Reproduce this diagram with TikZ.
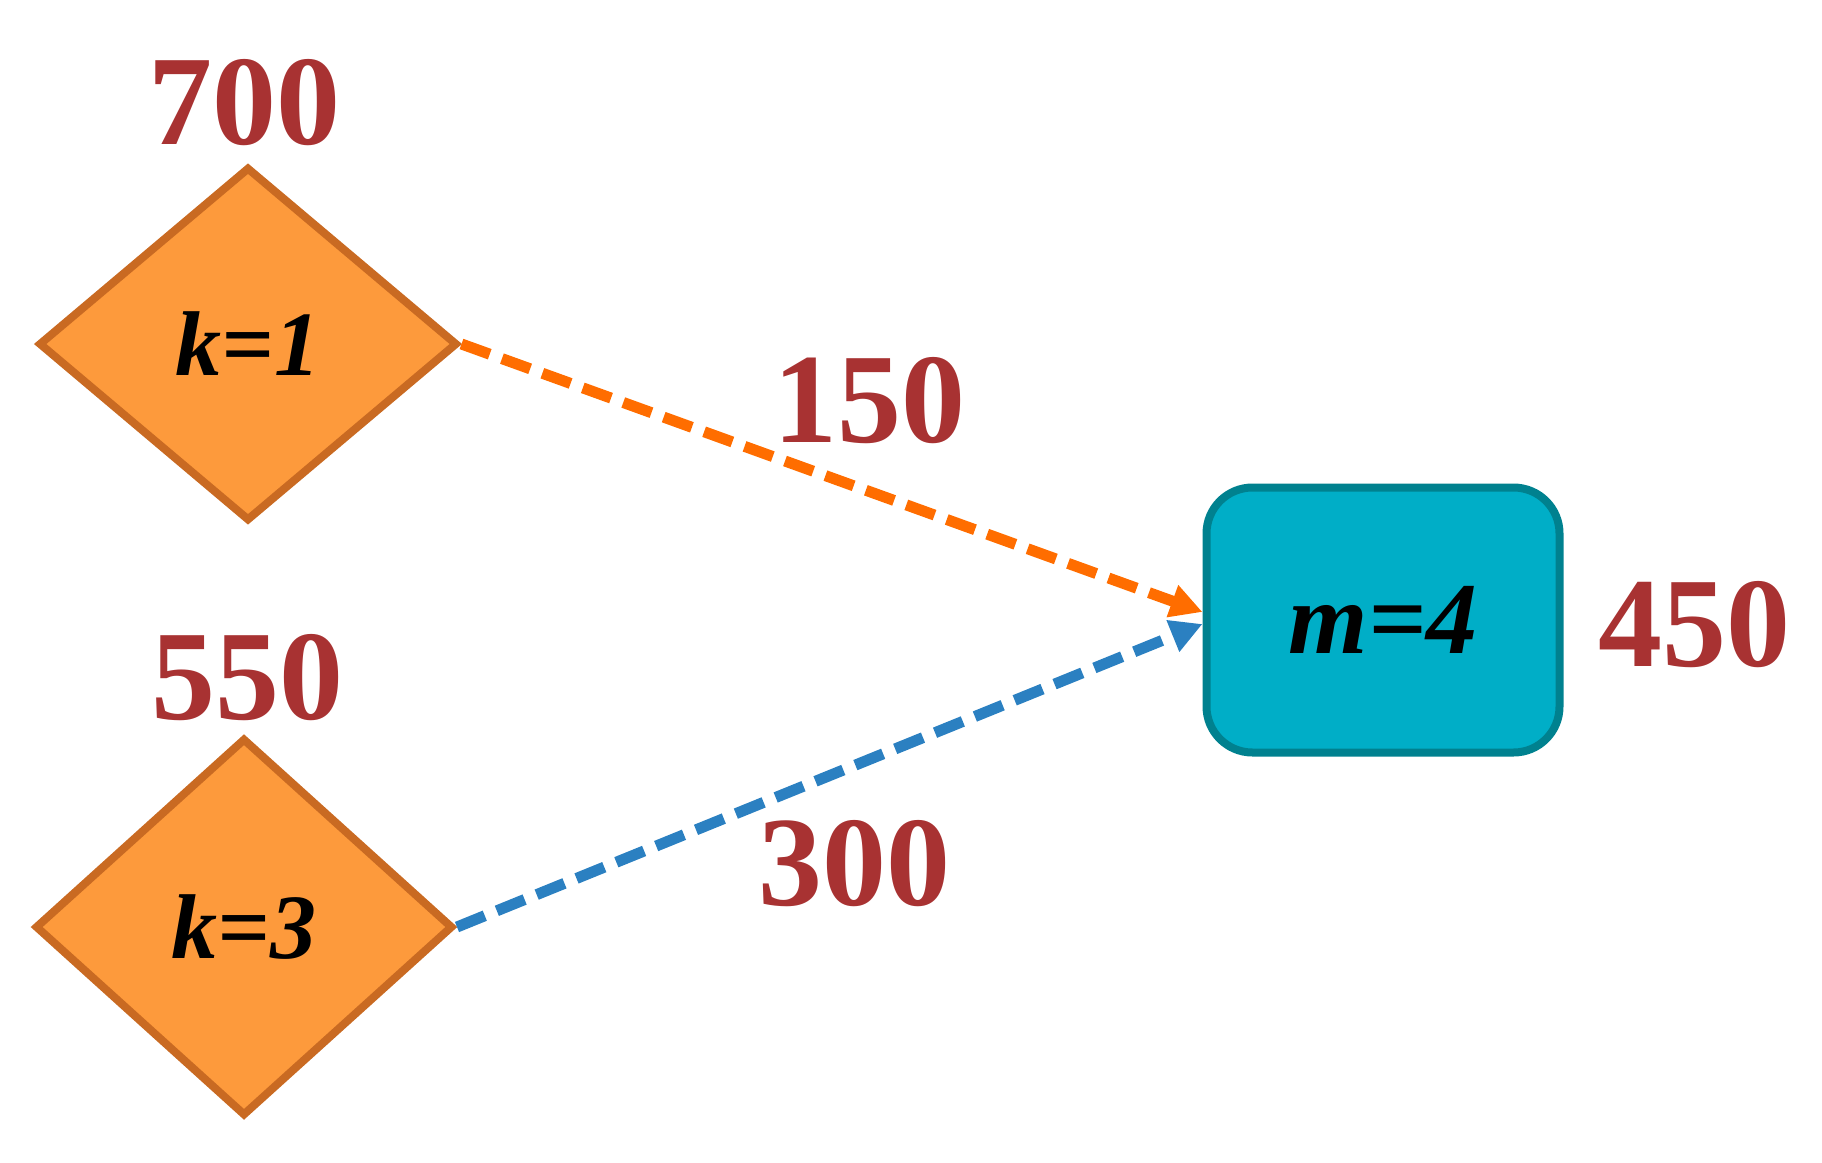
\documentclass[tikz,border=0pt]{standalone}
\usepackage{fontspec}
\setmainfont{Liberation Serif}
\usetikzlibrary{shapes.geometric,arrows.meta}
\definecolor{lblred}{HTML}{A83232}
\definecolor{dfill}{HTML}{FD9A3C}
\definecolor{ddraw}{HTML}{C96A22}
\definecolor{rfill}{HTML}{00AEC7}
\definecolor{rdraw}{HTML}{00818F}
\definecolor{oline}{HTML}{FF6D00}
\definecolor{bline}{HTML}{2B80C1}
\tikzset{
  dnode/.style={diamond, draw=ddraw, fill=dfill, line width=8pt, inner sep=0pt,
    font=\bfseries\itshape\fontsize{92}{92}\selectfont, text=black},
  rnode/.style={rectangle, rounded corners=46pt, draw=rdraw, fill=rfill, line width=8pt,
    minimum width=353pt, minimum height=265pt, inner sep=0pt,
    font=\bfseries\itshape\fontsize{102}{102}\selectfont, text=black},
  lbl/.style={font=\bfseries\fontsize{128}{128}\selectfont, text=lblred, inner sep=0pt},
  conn/.style={line width=11pt, dash pattern=on 30pt off 13pt,
    -{Triangle[length=32pt,width=32pt]}},
}
\begin{document}
\begin{tikzpicture}[x=1pt,y=-1pt]
\useasboundingbox (0,0) rectangle (1822,1162);
\node[dnode, minimum width=419pt, minimum height=354pt] (d1) at (248,344) {k=1};
\node[dnode, minimum width=418pt, minimum height=378pt] (d2) at (244,927) {k=3};
\node[rnode] (r) at (1383,620) {m=4};
\node[lbl] (l700) at (244,103) {700};
\node[lbl] (l550) at (247,678) {550};
\node[lbl] (l150) at (869,401) {150};
\node[lbl] (l300) at (854,864) {300};
\node[lbl] (l450) at (1694,625) {450};
\draw[conn, oline] (d1.east) -- ([yshift=8pt]r.west);
\draw[conn, bline] (d2.east) -- ([yshift=-4pt]r.west);
\end{tikzpicture}
\end{document}
